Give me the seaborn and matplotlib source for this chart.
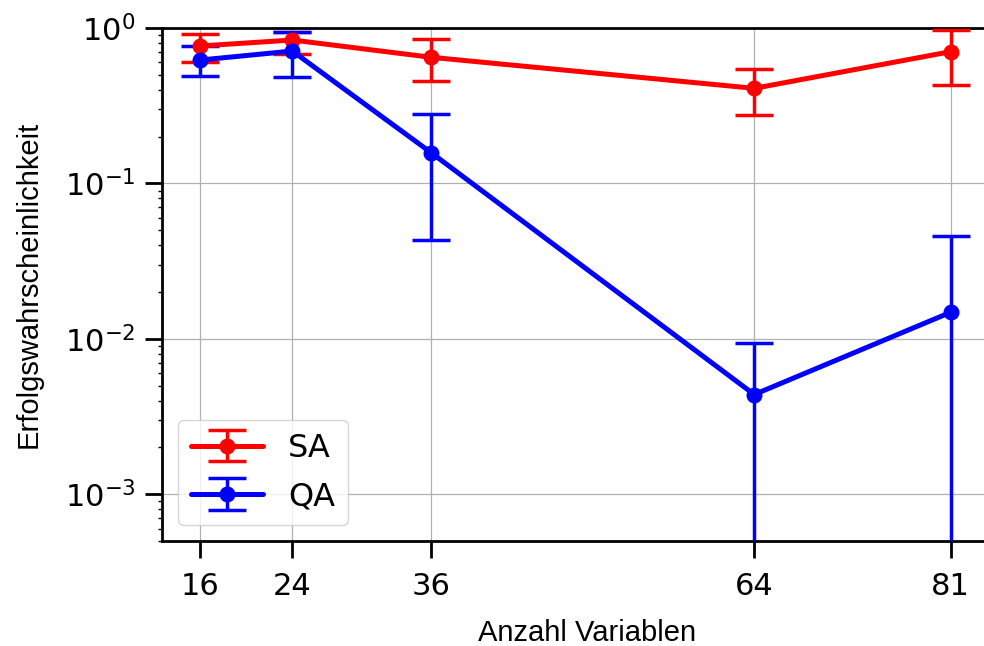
import numpy as np
import pandas as pd
import matplotlib
matplotlib.use("Agg")
import matplotlib.pyplot as plt
import seaborn as sns

# Data
n_vars = [16, 24, 36, 64, 81]
sa_mean = [0.766, 0.837, 0.648, 0.409, 0.704]
sa_low = [0.600, 0.680, 0.456, 0.276, 0.427]
sa_high = [0.915, 0.940, 0.846, 0.544, 0.976]
qa_mean = [0.622, 0.711, 0.158, 0.00438, 0.0148]
qa_low = [0.491, 0.481, 0.0431, 0.0, 0.0]
qa_high = [0.766, 0.940, 0.278, 0.0094, 0.0458]
x_ticks = [16, 24, 36, 64, 81]

sns.set_style("ticks")
plt.rcParams['font.family'] = ['DejaVu Sans']
plt.rcParams['text.color'] = 'black'
plt.rcParams['axes.labelcolor'] = 'black'
plt.rcParams['xtick.color'] = 'black'
plt.rcParams['ytick.color'] = 'black'

fig = plt.figure(figsize=(9.84, 6.46), dpi=100)
ax = fig.add_axes([162/984, 1 - 541/646, 1 - 162/984, (541 - 28)/646])

df = pd.DataFrame({"n": n_vars, "SA": sa_mean, "QA": qa_mean})

series = [
    ("SA", sa_mean, sa_low, sa_high, "#ff0000"),
    ("QA", qa_mean, qa_low, qa_high, "#0000ff"),
]
for name, m, lo, hi, col in series:
    m = np.array(m); lo = np.array(lo); hi = np.array(hi)
    yerr = np.vstack([m - lo, hi - m])
    ax.errorbar(df["n"], df[name], yerr=yerr, fmt="-o", color=col,
                lw=3.6, ms=10.5, elinewidth=2.5, capsize=13.5, capthick=2.5,
                label=name, zorder=3)

ax.set_yscale("log")
ax.set_ylim(5e-4, 1)
ax.set_xlim(12.71, 83.9)
ax.set_xticks(x_ticks)
ax.set_xticklabels([str(v) for v in x_ticks])
ax.grid(True, which="major", color="#b0b0b0", lw=0.9)
ax.set_axisbelow(True)

for s in ["left", "bottom", "top"]:
    ax.spines[s].set_visible(True)
    ax.spines[s].set_linewidth(2)
    ax.spines[s].set_color("black")
ax.spines["right"].set_visible(False)

ax.tick_params(axis="both", which="major", length=12, width=2, labelsize=22,
               direction="out", color="black", labelcolor="black", pad=7,
               top=False, right=False)
ax.tick_params(axis="x", which="major", pad=10)
ax.tick_params(axis="y", which="minor", length=3, width=1, direction="out",
               color="black", left=True)

ax.set_xlabel("Anzahl Variablen", fontsize=21, family=["Liberation Sans"], color="black")
ax.set_ylabel("Erfolgswahrscheinlichkeit", fontsize=21, family=["Liberation Sans"], color="black")
ax.xaxis.set_label_coords((587 - 162) / 822, -0.152)
ax.yaxis.set_label_coords(-(162 - 43) / 822, 0.5)

leg = ax.legend(loc="lower left", fontsize=23, frameon=True, framealpha=0.8,
                handlelength=2.25, borderpad=0.4, labelspacing=0.55)

fig.savefig("out.png", dpi=100)
